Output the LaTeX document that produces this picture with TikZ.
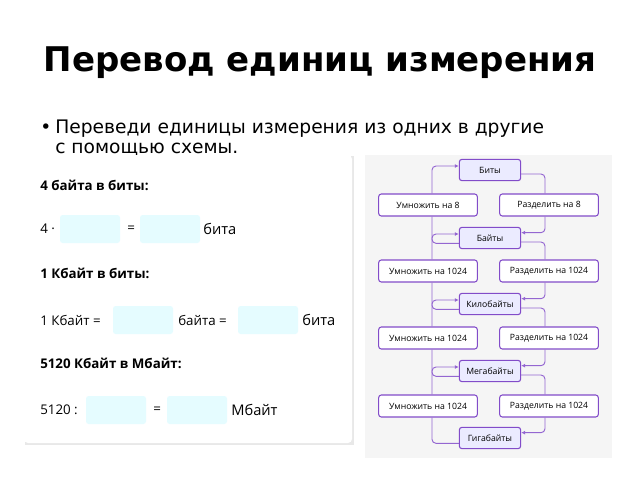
\documentclass[tikz,border=0pt]{standalone}
\usepackage{fontspec}
\setmainfont{DejaVu Sans}
\newfontfamily\pan{Open Sans}
\usetikzlibrary{arrows.meta}
\begin{document}
\begin{tikzpicture}[x=0.75pt,y=-0.75pt,
 unit/.style={draw=violet!60!blue!70,fill=blue!8,rounded corners=2pt,line width=0.8pt,minimum width=46pt,minimum height=16pt,inner sep=1pt,font=\pan\fontsize{6.5}{7}\selectfont},
 op/.style={draw=violet!60!blue!70,fill=white,rounded corners=2pt,line width=0.8pt,minimum width=74pt,minimum height=16.5pt,inner sep=1pt,font=\pan\fontsize{6.5}{7}\selectfont},
 ln/.style={draw=violet!60!blue!60,line width=0.7pt,rounded corners=3pt,-{Latex[length=3pt,width=3pt]}},
 blank/.style={fill=blue!10!cyan!10,rounded corners=2pt,minimum width=45pt,minimum height=21pt,inner sep=0pt},
 pt/.style={font=\pan\fontsize{10}{12}\selectfont,anchor=west,inner sep=0pt},
 pb/.style={anchor=west,inner sep=0pt,font=\pan\bfseries\fontsize{10}{12}\selectfont}]
\useasboundingbox (0,0) rectangle (640,480);
\node[font=\bfseries\fontsize{25.5}{30}\selectfont] (title) at (320,63) {Перевод единиц измерения};
\node[anchor=west,font=\fontsize{14}{15}\selectfont,inner sep=0] (b) at (40,129) {\textbullet};
\node[anchor=north west,align=left,font=\fontsize{14}{14.5}\selectfont,inner sep=0] (bt) at (55,120) {Переведи единицы измерения из одних в другие\\с помощью схемы.};
% left card
\fill[gray!18] (25,156) rectangle (354,445);
\fill[white,rounded corners=3pt] (24,155) rectangle (352,443);
\node[pb] (h1) at (40,185) {4 байта в биты:};
\node[pt] (a1) at (40,229) {4 ·};
\node[blank] (x1) at (90,229) {};
\node[pt] (e1) at (127,229) {=};
\node[blank] (x2) at (170,229) {};
\node[pt,font=\pan\fontsize{11}{12}\selectfont] (t1) at (203,229) {бита};
\node[pb] (h2) at (40,273) {1 Кбайт в биты:};
\node[pt] (a2) at (40,320) {1 Кбайт =};
\node[blank] (x3) at (143,320) {};
\node[pt] (e2) at (178,320) {байта =};
\node[blank] (x4) at (268,320) {};
\node[pt,font=\pan\fontsize{11}{12}\selectfont] (t2) at (302,320) {бита};
\node[pb] (h3) at (40,363) {5120 Кбайт в Мбайт:};
\node[pt] (a3) at (40,410) {5120 :};
\node[blank] (x5) at (116,410) {};
\node[pt] (e3) at (153,410) {=};
\node[blank] (x6) at (197,410) {};
\node[pt,font=\pan\fontsize{11}{12}\selectfont] (t3) at (231,410) {Мбайт};
% right panel
\fill[gray!8] (365,155) rectangle (612,458);
\node[unit] (u0) at (490,170) {Биты};
\node[unit] (u1) at (490,238) {Байты};
\node[unit] (u2) at (490,304) {Килобайты};
\node[unit] (u3) at (490,371) {Мегабайты};
\node[unit] (u4) at (490,438) {Гигабайты};
\node[op] (l1) at (428,205) {Умножить на 8};
\node[op] (r1) at (549,205) {Разделить на 8};
\node[op] (l2) at (428,271) {Умножить на 1024};
\node[op] (r2) at (549,271) {Разделить на 1024};
\node[op] (l3) at (428,338) {Умножить на 1024};
\node[op] (r3) at (549,338) {Разделить на 1024};
\node[op] (l4) at (428,406) {Умножить на 1024};
\node[op] (r4) at (549,406) {Разделить на 1024};
\foreach \a/\o/\b in {u1/l1/u0,u2/l2/u1,u3/l3/u2,u4/l4/u3}{
  \draw[ln] ([yshift=-4]\a.west) -| ([xshift=3]\o.south) ([xshift=3]\o.north) |- ([yshift=3]\b.west);
}
\foreach \a/\o/\b in {u0/r1/u1,u1/r2/u2,u2/r3/u3,u3/r4/u4}{
  \draw[ln] ([yshift=-3]\a.east) -| ([xshift=-3]\o.north) ([xshift=-3]\o.south) |- ([yshift=4]\b.east);
}
\end{tikzpicture}
\end{document}
